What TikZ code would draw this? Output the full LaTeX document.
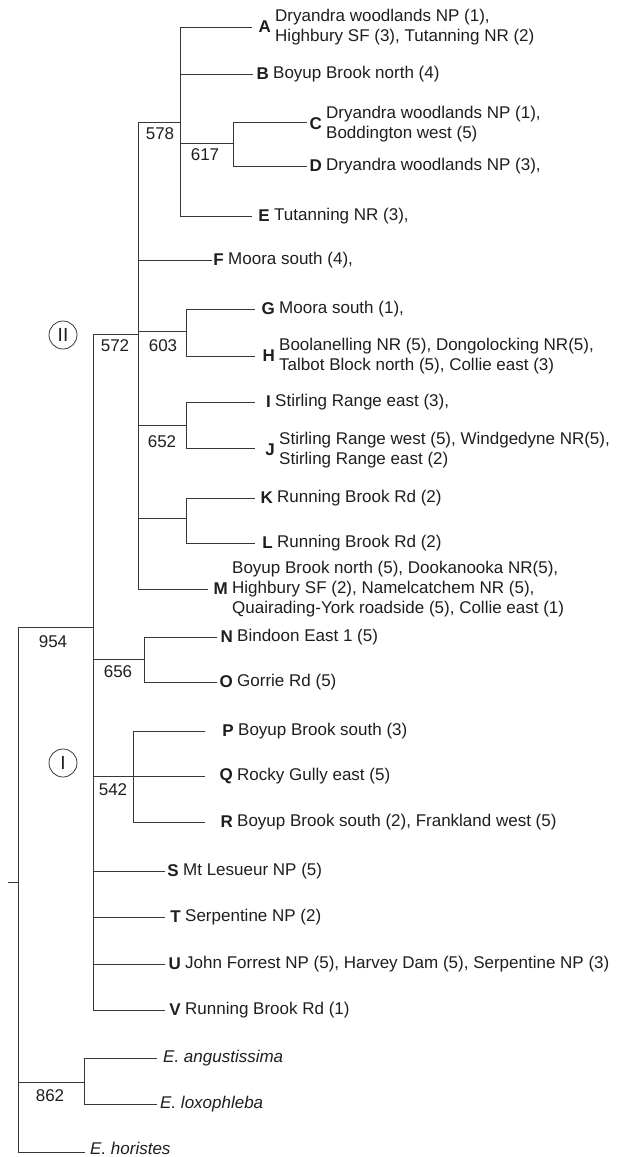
\documentclass[tikz,border=0pt]{standalone}
\usepackage{fontspec}
\setmainfont{Liberation Sans}
\usetikzlibrary{positioning}
\definecolor{branchgray}{RGB}{55,55,55}
\definecolor{inkblack}{RGB}{30,30,30}

\tikzset{
  branch/.style={draw=branchgray, line width=0.9pt},
  site/.style={anchor=west, inner sep=0pt, align=left, text=inkblack, font=\fontsize{17}{20}\selectfont},
  taxon/.style={site, font=\fontsize{17}{20}\selectfont\itshape},
  tag/.style={inner sep=0pt, text=inkblack, font=\fontsize{17}{20}\selectfont\bfseries},
  boot/.style={inner sep=0pt, text=inkblack, font=\fontsize{17}{20}\selectfont},
  clade/.style={circle, draw=branchgray, line width=0.8pt, minimum size=28pt, inner sep=0pt, text=inkblack, font=\fontsize{19}{19}\selectfont}
}

\begin{document}
\begin{tikzpicture}[x=1pt, y=-1pt]
    \useasboundingbox (0,0) rectangle (616,1157);

    % Internal nodes
    \coordinate (stub) at (8,882);
    \coordinate (root) at (18,882);
    \coordinate (n954) at (93,627);
    \coordinate (n862) at (84,1082);
    \coordinate (n572) at (138,334);
    \coordinate (n578) at (180,122);
    \coordinate (n617) at (233,143);
    \coordinate (n603) at (186,331);
    \coordinate (n652) at (186,425);
    \coordinate (nKL) at (186,518);
    \coordinate (n656) at (144,659);
    \coordinate (n542) at (133,776);

    % Branch tips
    \coordinate (eA) at (252,27);
    \coordinate (eB) at (253,74);
    \coordinate (eC) at (307,122);
    \coordinate (eD) at (307,166);
    \coordinate (eE) at (252,216);
    \coordinate (eF) at (212,260);
    \coordinate (eG) at (255,309);
    \coordinate (eH) at (255,356);
    \coordinate (eI) at (255,402);
    \coordinate (eJ) at (255,448);
    \coordinate (eK) at (255,498);
    \coordinate (eL) at (255,543);
    \coordinate (eM) at (208,589);
    \coordinate (eN) at (217,637);
    \coordinate (eO) at (217,682);
    \coordinate (eP) at (205,731);
    \coordinate (eQ) at (205,776);
    \coordinate (eR) at (205,822);
    \coordinate (eS) at (165,871);
    \coordinate (eT) at (165,917);
    \coordinate (eU) at (165,964);
    \coordinate (eV) at (165,1010);
    \coordinate (eAng) at (157,1058);
    \coordinate (eLox) at (157,1104);
    \coordinate (eHor) at (85,1152);

    % Sites of each haplotype
    \node[site] (sA) at (275,27) {Dryandra woodlands NP (1),\\Highbury SF (3), Tutanning NR (2)};
    \node[site] (sB) at (273,74) {Boyup Brook north (4)};
    \node[site] (sC) at (326,124) {Dryandra woodlands NP (1),\\Boddington west (5)};
    \node[site] (sD) at (326,166) {Dryandra woodlands NP (3),};
    \node[site] (sE) at (274,216) {Tutanning NR (3),};
    \node[site] (sF) at (228,260) {Moora south (4),};
    \node[site] (sG) at (279,309) {Moora south (1),};
    \node[site] (sH) at (279,356) {Boolanelling NR (5), Dongolocking NR(5),\\Talbot Block north (5), Collie east (3)};
    \node[site] (sI) at (275,402) {Stirling Range east (3),};
    \node[site] (sJ) at (279,450) {Stirling Range west (5), Windgedyne NR(5),\\Stirling Range east (2)};
    \node[site] (sK) at (277,498) {Running Brook Rd (2)};
    \node[site] (sL) at (277,543) {Running Brook Rd (2)};
    \node[site] (sM) at (232,589) {Boyup Brook north (5), Dookanooka NR(5),\\Highbury SF (2), Namelcatchem NR (5),\\Quairading-York roadside (5), Collie east (1)};
    \node[site] (sN) at (237,637) {Bindoon East 1 (5)};
    \node[site] (sO) at (237,682) {Gorrie Rd (5)};
    \node[site] (sP) at (238,731) {Boyup Brook south (3)};
    \node[site] (sQ) at (237,776) {Rocky Gully east (5)};
    \node[site] (sR) at (237,822) {Boyup Brook south (2), Frankland west (5)};
    \node[site] (sS) at (183,871) {Mt Lesueur NP (5)};
    \node[site] (sT) at (185,917) {Serpentine NP (2)};
    \node[site] (sU) at (185,964) {John Forrest NP (5), Harvey Dam (5), Serpentine NP (3)};
    \node[site] (sV) at (185,1010) {Running Brook Rd (1)};

    % Haplotype letters
    \node[tag, left=4pt of sA] (A) {A};
    \node[tag, left=4pt of sB] (B) {B};
    \node[tag, left=4pt of sC] (C) {C};
    \node[tag, left=4pt of sD] (D) {D};
    \node[tag, left=4pt of sE] (E) {E};
    \node[tag, left=4pt of sF] (F) {F};
    \node[tag, left=4pt of sG] (G) {G};
    \node[tag, left=4pt of sH] (H) {H};
    \node[tag, left=4pt of sI] (I) {I};
    \node[tag, left=4pt of sJ] (J) {J};
    \node[tag, left=4pt of sK] (K) {K};
    \node[tag, left=4pt of sL] (L) {L};
    \node[tag, left=4pt of sM] (M) {M};
    \node[tag, left=4pt of sN] (N) {N};
    \node[tag, left=4pt of sO] (O) {O};
    \node[tag, left=4pt of sP] (P) {P};
    \node[tag, left=4pt of sQ] (Q) {Q};
    \node[tag, left=4pt of sR] (R) {R};
    \node[tag, left=4pt of sS] (S) {S};
    \node[tag, left=4pt of sT] (T) {T};
    \node[tag, left=4pt of sU] (U) {U};
    \node[tag, left=4pt of sV] (V) {V};

    % Outgroup species
    \node[taxon] (ang) at (163,1058) {E. angustissima};
    \node[taxon] (lox) at (160,1104) {E. loxophleba};
    \node[taxon] (hor) at (90,1148) {E. horistes};

    % Support values
    \node[boot] (b578) at (160,134) {578};
    \node[boot] (b617) at (205,155) {617};
    \node[boot] (b572) at (115,346) {572};
    \node[boot] (b603) at (163,346) {603};
    \node[boot] (b652) at (162,442) {652};
    \node[boot] (b954) at (53,642) {954};
    \node[boot] (b656) at (118,672) {656};
    \node[boot] (b542) at (113,790) {542};
    \node[boot] (b862) at (50,1096) {862};

    % Clade marks
    \node[clade] (cII) at (63,335) {II};
    \node[clade] (cI) at (63,763) {I};

    % Branches
    \draw[branch] (stub) -- (root);
    \draw[branch] (root) |- (n954);
    \draw[branch] (root) |- (n862);
    \draw[branch] (root) |- (eHor);
    \draw[branch] (n862) |- (eAng);
    \draw[branch] (n862) |- (eLox);

    \draw[branch] (n954) |- (n572);
    \draw[branch] (n954) |- (n656);
    \draw[branch] (n954) |- (n542);
    \draw[branch] (n954) |- (eS);
    \draw[branch] (n954) |- (eT);
    \draw[branch] (n954) |- (eU);
    \draw[branch] (n954) |- (eV);

    \draw[branch] (n572) |- (n578);
    \draw[branch] (n572) |- (eF);
    \draw[branch] (n572) |- (n603);
    \draw[branch] (n572) |- (n652);
    \draw[branch] (n572) |- (nKL);
    \draw[branch] (n572) |- (eM);

    \draw[branch] (n578) |- (eA);
    \draw[branch] (n578) |- (eB);
    \draw[branch] (n578) |- (n617);
    \draw[branch] (n578) |- (eE);
    \draw[branch] (n617) |- (eC);
    \draw[branch] (n617) |- (eD);

    \draw[branch] (n603) |- (eG);
    \draw[branch] (n603) |- (eH);
    \draw[branch] (n652) |- (eI);
    \draw[branch] (n652) |- (eJ);
    \draw[branch] (nKL) |- (eK);
    \draw[branch] (nKL) |- (eL);

    \draw[branch] (n656) |- (eN);
    \draw[branch] (n656) |- (eO);
    \draw[branch] (n542) |- (eP);
    \draw[branch] (n542) |- (eQ);
    \draw[branch] (n542) |- (eR);
\end{tikzpicture}
\end{document}
